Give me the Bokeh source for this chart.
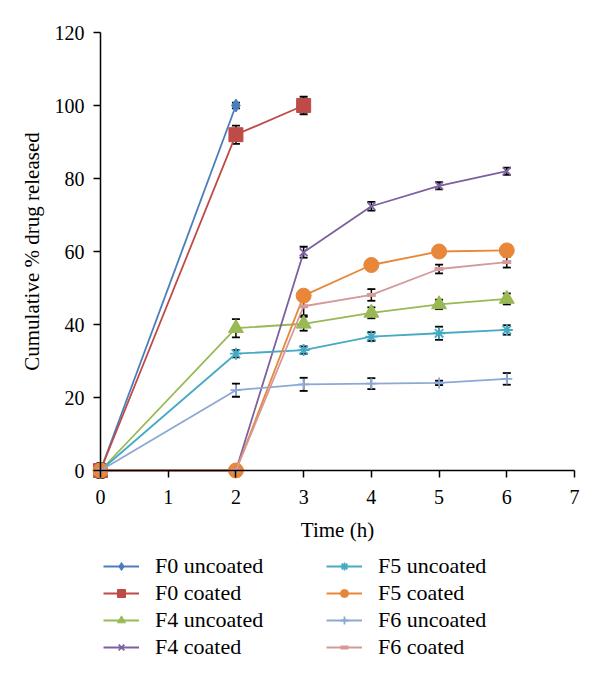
from bokeh.plotting import figure
from bokeh.models import (Range1d, Whisker, ColumnDataSource, Legend, LegendItem,
                          TeeHead, FixedTicker)
from bokeh.embed import file_html
from bokeh.resources import INLINE

# ---- data ----
x_ticks = [0, 1, 2, 3, 4, 5, 6, 7]
y_ticks = [0, 20, 40, 60, 80, 100, 120]

labels = ["F0 uncoated", "F0 coated", "F4 uncoated", "F4 coated",
          "F5 uncoated", "F5 coated", "F6 uncoated", "F6 coated"]

f0_uncoated_t = [0, 2]
f0_uncoated_v = [0, 100]
f0_uncoated_e = [2.0, 0.8]

f0_coated_t = [0, 2, 3]
f0_coated_v = [0, 92, 100]
f0_coated_e = [0, 2.5, 2.4]

f4_uncoated_t = [0, 2, 3, 4, 5, 6]
f4_uncoated_v = [0, 39, 40.2, 43.2, 45.5, 47]
f4_uncoated_e = [0, 2.5, 1.9, 1.5, 1.3, 1.5]

f4_coated_t = [0, 2, 3, 4, 5, 6]
f4_coated_v = [0, 0, 59.8, 72.4, 78, 82]
f4_coated_e = [0, 0, 1.5, 1.2, 1.0, 1.0]

f5_uncoated_t = [0, 2, 3, 4, 5, 6]
f5_uncoated_v = [0, 32, 33, 36.7, 37.6, 38.5]
f5_uncoated_e = [0, 1.0, 1.0, 1.2, 1.8, 1.3]

f5_coated_t = [0, 2, 3, 4, 5, 6]
f5_coated_v = [0, 0, 47.9, 56.3, 60, 60.3]
f5_coated_e = [0, 0, 1.0, 0.8, 1.0, 0.8]

f6_uncoated_t = [0, 2, 3, 4, 5, 6]
f6_uncoated_v = [0, 22, 23.6, 23.8, 24, 25.1]
f6_uncoated_e = [0, 1.8, 1.8, 1.5, 0.6, 1.6]

f6_coated_t = [0, 2, 3, 4, 5, 6]
f6_coated_v = [0, 0, 45, 48.1, 55.2, 57.1]
f6_coated_e = [0, 0, 2.5, 1.6, 1.2, 1.5]

series = [
    (f0_uncoated_t, f0_uncoated_v, f0_uncoated_e),
    (f0_coated_t, f0_coated_v, f0_coated_e),
    (f4_uncoated_t, f4_uncoated_v, f4_uncoated_e),
    (f4_coated_t, f4_coated_v, f4_coated_e),
    (f5_uncoated_t, f5_uncoated_v, f5_uncoated_e),
    (f5_coated_t, f5_coated_v, f5_coated_e),
    (f6_uncoated_t, f6_uncoated_v, f6_uncoated_e),
    (f6_coated_t, f6_coated_v, f6_coated_e),
]

# ---- styles ----
colors = ["#4A7EBB", "#BE4B48", "#98B954", "#7D60A0",
          "#46AAC5", "#E8873A", "#8DA8D5", "#D49A99"]
markers = ["diamond", "square", "triangle", "x",
           "asterisk", "circle", "cross", "dash"]
msizes = [13, 14, 15, 11, 12, 15, 11, 9]

FONT = "Liberation Serif"

W, H = 600, 683
X0, X7 = 100.0, 574.0      # pixel positions of x=0 and x=7
Y0, Y120 = 470.0, 32.0     # pixel positions of y=0 and y=120
sx = (X7 - X0) / 7.0
sy = (Y0 - Y120) / 120.0

p = figure(width=W, height=H, output_backend="svg", toolbar_location=None,
           x_range=Range1d(-X0 / sx, (W - X0) / sx),
           y_range=Range1d(-(H - Y0) / sy, Y0 / sy),
           min_border_left=0, min_border_right=0, min_border_top=0,
           min_border_bottom=0)
p.outline_line_color = None
p.grid.visible = False

for ax in (p.xaxis, p.yaxis):
    ax.axis_line_color = "black"
    ax.axis_line_width = 1.5
    ax.major_tick_line_color = "black"
    ax.major_tick_line_width = 1.5
    ax.major_tick_out = 7
    ax.major_tick_in = 0
    ax.minor_tick_line_color = None
    ax.major_label_text_font = FONT
    ax.major_label_text_font_size = "20px"
    ax.major_label_text_color = "black"
    ax.axis_label_text_font = FONT
    ax.axis_label_text_font_size = "21px"
    ax.axis_label_text_color = "black"

p.xaxis.axis_label_text_font_style = "normal"
p.yaxis.axis_label_text_font_style = "normal"
p.xaxis.ticker = FixedTicker(ticks=x_ticks)
p.yaxis.ticker = FixedTicker(ticks=y_ticks)
p.xaxis.bounds = (0, 7)
p.yaxis.bounds = (0, 120)
p.xaxis.fixed_location = 0
p.yaxis.fixed_location = 0
p.xaxis.axis_label = "Time (h)"
p.yaxis.axis_label = "Cumulative % drug released"
p.xaxis.major_label_standoff = 12
p.yaxis.major_label_standoff = 9
p.xaxis.axis_label_standoff = 11
p.yaxis.axis_label_standoff = 8

items = []
for (t, v, e), c, m, s, lab in zip(series, colors, markers, msizes, labels):
    src = ColumnDataSource(dict(t=t, v=v,
                                lo=[a - b for a, b in zip(v, e)],
                                hi=[a + b for a, b in zip(v, e)]))
    w = Whisker(base="t", lower="lo", upper="hi", source=src,
                line_color="black", line_width=1.5,
                upper_head=TeeHead(size=8, line_color="black", line_width=1.8),
                lower_head=TeeHead(size=8, line_color="black", line_width=1.8))
    p.add_layout(w)
    lr = p.line("t", "v", source=src, line_color=c, line_width=1.8)
    if m in ("x", "asterisk", "cross"):
        sr = p.scatter("t", "v", source=src, marker=m, size=s,
                       line_color=c, line_width=1.8, fill_color=None)
    elif m == "dash":
        sr = p.scatter("t", "v", source=src, marker=m, size=s,
                       line_color=c, line_width=4)
    else:
        sr = p.scatter("t", "v", source=src, marker=m, size=s,
                       line_color=c, fill_color=c, line_width=1)
    items.append(LegendItem(label=lab, renderers=[lr, sr]))

for k, loc in enumerate([(103, 23), (326, 23)]):
    lg = Legend(items=items[4 * k:4 * k + 4], location=loc,
                orientation="vertical", padding=0, margin=0,
                border_line_color=None, background_fill_alpha=0,
                label_text_font=FONT, label_text_font_size="22px",
                label_text_color="black", glyph_width=36, glyph_height=20,
                label_standoff=16, spacing=1, label_height=20)
    p.add_layout(lg, "center")

open("out.html", "w").write(file_html(p, INLINE))
